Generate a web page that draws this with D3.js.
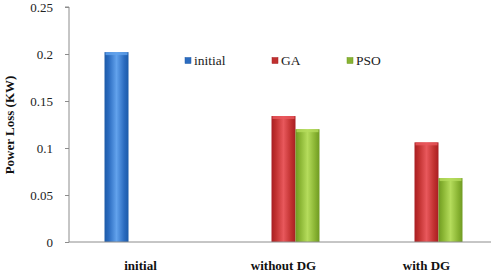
<!DOCTYPE html>
<html>
<head>
<meta charset="utf-8">
<script src="https://cdn.jsdelivr.net/npm/d3@7"></script>
<style>
  body { margin: 0; background: #fff; }
  svg { display: block; }
  svg text { font-family: "Liberation Serif", "Times New Roman", "DejaVu Serif", serif; }
</style>
</head>
<body>
<figure id="chart" style="margin:0"></figure>
<script>
const categories = ["initial", "without DG", "with DG"];
const series = ["initial", "GA", "PSO"];
const initialValues = [0.202, 0, 0];
const gaValues = [0, 0.134, 0.106];
const psoValues = [0, 0.12, 0.068];
const yTicks = [0, 0.05, 0.1, 0.15, 0.2, 0.25];
const yTickLabels = ["0", "0.05", "0.1", "0.15", "0.2", "0.25"];

const values = { initial: initialValues, GA: gaValues, PSO: psoValues };
const colors = {
  initial: ["#1c5aa8", "#62a2ec", "#2b6cc0"],
  GA: ["#a81e22", "#e8585c", "#c0302f"],
  PSO: ["#6f9a22", "#b5dc5c", "#88b332"]
};

const width = 491, height = 274;
const plotLeft = 69, plotRight = 498, plotTop = 7, plotBottom = 242;

const svg = d3.select("#chart").append("svg")
  .attr("width", width)
  .attr("height", height);

const defs = svg.append("defs");
series.forEach(s => {
  const g = defs.append("linearGradient")
    .attr("id", "grad-" + s)
    .attr("x1", "0%").attr("x2", "100%").attr("y1", "0%").attr("y2", "0%");
  g.append("stop").attr("offset", "0%").attr("stop-color", colors[s][0]);
  g.append("stop").attr("offset", "18%").attr("stop-color", colors[s][2]);
  g.append("stop").attr("offset", "50%").attr("stop-color", colors[s][1]);
  g.append("stop").attr("offset", "82%").attr("stop-color", colors[s][2]);
  g.append("stop").attr("offset", "100%").attr("stop-color", colors[s][0]);
});

const y = d3.scaleLinear().domain([0, 0.25]).range([plotBottom, plotTop]);

const x0 = d3.scaleBand().domain(categories).range([plotLeft, plotRight]).padding(0);
const x1 = d3.scaleBand().domain(series).range([0, x0.bandwidth()])
  .paddingInner(0).paddingOuter(1.48);

// bars
categories.forEach((c, i) => {
  series.forEach(s => {
    const v = values[s][i];
    if (!v) return;
    const bx = x0(c) + x1(s);
    const by = y(v);
    const bw = x1.bandwidth();
    svg.append("rect")
      .attr("x", bx).attr("y", by)
      .attr("width", bw).attr("height", plotBottom - by)
      .attr("fill", "url(#grad-" + s + ")");
    // top bevel highlight
    svg.append("rect")
      .attr("x", bx + 1).attr("y", by)
      .attr("width", bw - 2).attr("height", 3)
      .attr("fill", colors[s][1]).attr("opacity", 0.8);
  });
});

// y axis
const yAxis = d3.axisLeft(y)
  .tickValues(yTicks)
  .tickFormat((d, i) => yTickLabels[i])
  .tickSize(4)
  .tickPadding(12);

const ya = svg.append("g")
  .attr("transform", `translate(${plotLeft},0)`)
  .call(yAxis)
  .attr("font-family", null);
ya.select(".domain").attr("stroke", "#8c8c8c").attr("d", `M-4,${plotTop}H0V${plotBottom}`);
ya.selectAll(".tick line").attr("stroke", "#8c8c8c");
ya.selectAll(".tick text")
  .attr("fill", "#222")
  .style("font-size", "13px");

// x baseline and labels
const xAxis = d3.axisBottom(x0).tickSize(0).tickPadding(19);
const xa = svg.append("g")
  .attr("transform", `translate(0,${plotBottom})`)
  .call(xAxis)
  .attr("font-family", null);
xa.select(".domain").attr("stroke", "#8c8c8c").attr("d", `M${plotLeft},0H${plotRight}`);
xa.selectAll(".tick text")
  .attr("fill", "#111")
  .style("font-size", "13px")
  .style("font-weight", "bold");

// y title
svg.append("text")
  .attr("transform", `translate(14,125) rotate(-90)`)
  .attr("text-anchor", "middle")
  .style("font-size", "13px")
  .style("font-weight", "bold")
  .attr("fill", "#111")
  .text("Power Loss (KW)");

// legend
const legendX = [185, 272, 347];
const legend = svg.append("g");
series.forEach((s, i) => {
  const g = legend.append("g").attr("transform", `translate(${legendX[i]},62)`);
  g.append("rect")
    .attr("x", 0).attr("y", -4.5).attr("width", 6).attr("height", 6)
    .attr("fill", colors[s][2]).attr("stroke", colors[s][0]).attr("stroke-width", 0.5);
  g.append("text")
    .attr("x", 9).attr("y", 3)
    .style("font-size", "13.5px")
    .attr("fill", "#222")
    .text(s);
});
</script>
</body>
</html>
